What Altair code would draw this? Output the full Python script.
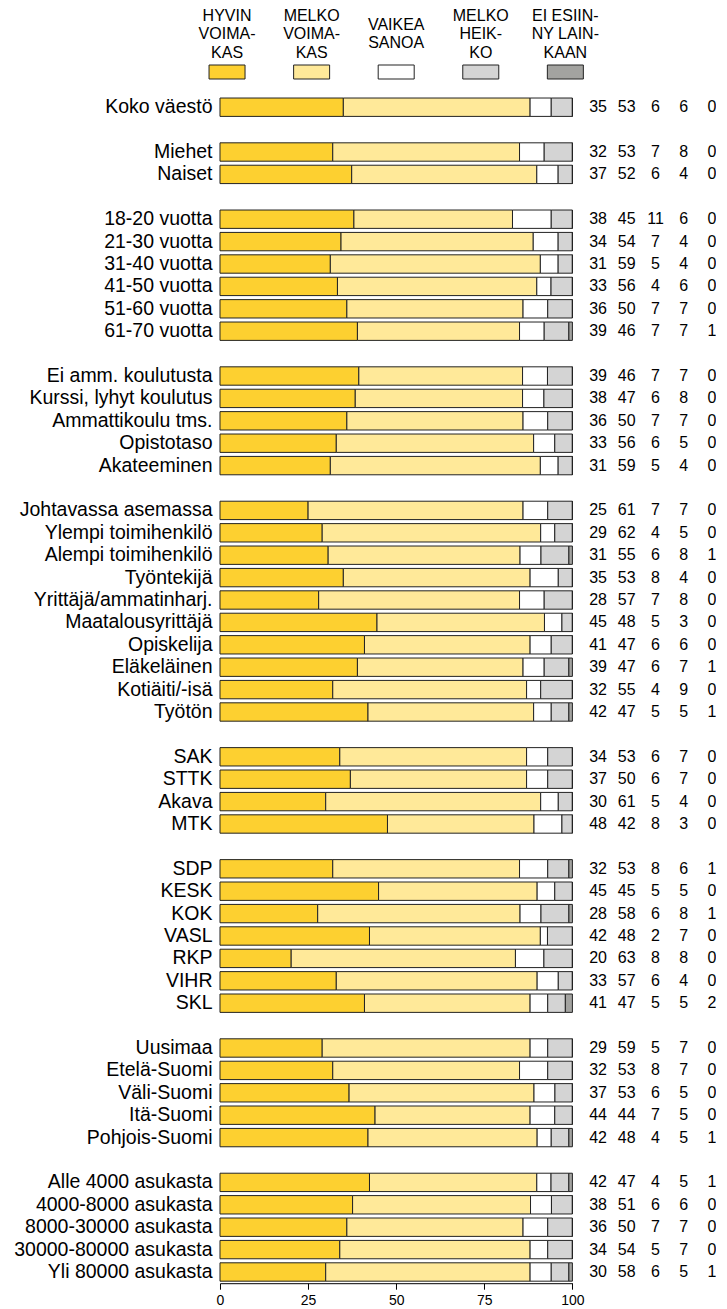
import altair as alt
import pandas as pd

categories = ["HYVIN VOIMAKAS", "MELKO VOIMAKAS", "VAIKEA SANOA", "MELKO HEIKKO", "EI ESIINNY LAINKAAN"]
legend_text = ["HYVIN\nVOIMA-\nKAS", "MELKO\nVOIMA-\nKAS", "VAIKEA\nSANOA", "MELKO\nHEIK-\nKO", "EI ESIIN-\nNY LAIN-\nKAAN"]
legend_pos = [2, 26, 50, 74, 98]
colors = ["#FDD030", "#FFE999", "#FFFFFF", "#D4D4D4", "#A3A3A0"]

groups = [
    ["Koko väestö"],
    ["Miehet", "Naiset"],
    ["18-20 vuotta", "21-30 vuotta", "31-40 vuotta", "41-50 vuotta", "51-60 vuotta", "61-70 vuotta"],
    ["Ei amm. koulutusta", "Kurssi, lyhyt koulutus", "Ammattikoulu tms.", "Opistotaso", "Akateeminen"],
    ["Johtavassa asemassa", "Ylempi toimihenkilö", "Alempi toimihenkilö", "Työntekijä",
     "Yrittäjä/ammatinharj.", "Maatalousyrittäjä", "Opiskelija", "Eläkeläinen", "Kotiäiti/-isä", "Työtön"],
    ["SAK", "STTK", "Akava", "MTK"],
    ["SDP", "KESK", "KOK", "VASL", "RKP", "VIHR", "SKL"],
    ["Uusimaa", "Etelä-Suomi", "Väli-Suomi", "Itä-Suomi", "Pohjois-Suomi"],
    ["Alle 4000 asukasta", "4000-8000 asukasta", "8000-30000 asukasta", "30000-80000 asukasta", "Yli 80000 asukasta"],
]

hyvin = [35, 32, 37, 38, 34, 31, 33, 36, 39, 39, 38, 36, 33, 31,
         25, 29, 31, 35, 28, 45, 41, 39, 32, 42, 34, 37, 30, 48,
         32, 45, 28, 42, 20, 33, 41, 29, 32, 37, 44, 42, 42, 38, 36, 34, 30]
melko = [53, 53, 52, 45, 54, 59, 56, 50, 46, 46, 47, 50, 56, 59,
         61, 62, 55, 53, 57, 48, 47, 47, 55, 47, 53, 50, 61, 42,
         53, 45, 58, 48, 63, 57, 47, 59, 53, 53, 44, 48, 47, 51, 50, 54, 58]
vaikea = [6, 7, 6, 11, 7, 5, 4, 7, 7, 7, 6, 7, 6, 5,
          7, 4, 6, 8, 7, 5, 6, 6, 4, 5, 6, 6, 5, 8,
          8, 5, 6, 2, 8, 6, 5, 5, 8, 6, 7, 4, 4, 6, 7, 5, 6]
heikko = [6, 8, 4, 6, 4, 4, 6, 7, 7, 7, 8, 7, 5, 4,
          7, 5, 8, 4, 8, 3, 6, 7, 9, 5, 7, 7, 4, 3,
          6, 5, 8, 7, 8, 4, 5, 7, 7, 5, 5, 5, 5, 6, 7, 7, 5]
ei = [0, 0, 0, 0, 0, 0, 0, 0, 1, 0, 0, 0, 0, 0,
      0, 0, 1, 0, 0, 0, 0, 1, 0, 1, 0, 0, 0, 0,
      1, 0, 1, 0, 0, 0, 2, 0, 0, 0, 0, 1, 1, 0, 0, 0, 1]
series = [hyvin, melko, vaikea, heikko, ei]

# x positions (in axis units) of the value columns at the right
value_cols = [107.3, 115.4, 123.6, 131.6, 139.6]

slots = []
for gi, g in enumerate(groups):
    if gi > 0:
        slots.append(f"gap{gi}")
    slots.extend(g)
rows = [r for g in groups for r in g]

recs, trecs = [], []
for i, r in enumerate(rows):
    for ci, c in enumerate(categories):
        recs.append({"row": r, "cat": c, "order": ci, "value": series[ci][i]})
        trecs.append({"row": r, "pos": value_cols[ci], "value": series[ci][i]})
df = pd.DataFrame(recs)
tdf = pd.DataFrame(trecs)
leg_df = pd.DataFrame({"pos": legend_pos, "label": legend_text, "cat": categories})

W = 352.4
H = 1187.2
xscale = alt.Scale(domain=[0, 100], nice=False)
cscale = alt.Scale(domain=categories, range=colors)
yscale = alt.Scale(domain=slots, paddingInner=0.18, paddingOuter=0.09)
yaxis = alt.Axis(title=None, domain=False, ticks=False, labelFontSize=19.5, labelPadding=8,
                 labelColor="#000", labelLimit=0, minExtent=212, maxExtent=212,
                 labelExpr="indexof(datum.value, 'gap') == 0 ? '' : datum.value")
xaxis = alt.Axis(title=None, values=[0, 25, 50, 75, 100], grid=False, labelFlush=False,
                 labelFontSize=14, labelColor="#000", tickSize=6, tickColor="#000",
                 domainColor="#000", labelPadding=4)

bars = alt.Chart(df).transform_joinaggregate(
    total="sum(value)", groupby=["row"]
).transform_calculate(
    pct="datum.value / datum.total * 100"
).mark_bar(stroke="#222", strokeWidth=1).encode(
    x=alt.X("pct:Q", stack="zero", scale=xscale, axis=xaxis),
    y=alt.Y("row:N", sort=slots, scale=yscale, axis=yaxis),
    color=alt.Color("cat:N", scale=cscale, legend=None),
    order=alt.Order("order:Q"),
)

nums = alt.Chart(tdf).mark_text(fontSize=16, align="center", baseline="middle", color="#000").encode(
    x=alt.X("pos:Q", scale=xscale, axis=xaxis),
    y=alt.Y("row:N", sort=slots, scale=yscale, axis=yaxis),
    text=alt.Text("value:Q"),
)

main = alt.layer(bars, nums).properties(width=W, height=H)

text_kw = dict(fontSize=16, lineBreak="\n", lineHeight=18.3, align="center", baseline="middle", color="#000")
leg_text3 = alt.Chart(leg_df).transform_filter(
    "length(split(datum.label, '\\n')) == 3"
).mark_text(**text_kw).encode(
    x=alt.X("pos:Q", scale=xscale, axis=None),
    y=alt.value(7),
    text="label:N",
)
leg_text2 = alt.Chart(leg_df).transform_filter(
    "length(split(datum.label, '\\n')) == 2"
).mark_text(**text_kw).encode(
    x=alt.X("pos:Q", scale=xscale, axis=None),
    y=alt.value(16),
    text="label:N",
)
leg_sw = alt.Chart(leg_df).mark_point(
    shape="M-1,-0.389H1V0.389H-1Z", size=1296, filled=True, opacity=1, stroke="#222", strokeWidth=1
).encode(
    x=alt.X("pos:Q", scale=xscale, axis=None),
    y=alt.value(63),
    color=alt.Color("cat:N", scale=cscale, legend=None),
)
legend = alt.layer(leg_text3, leg_text2, leg_sw).properties(width=W, height=80)

chart = alt.vconcat(legend, main, spacing=7).properties(
    padding={"left": 0, "top": 0, "right": 0, "bottom": 0}
).configure(font="Liberation Sans").configure_view(stroke=None)

chart.save("out.html", embed_options={"renderer": "svg", "actions": False})
